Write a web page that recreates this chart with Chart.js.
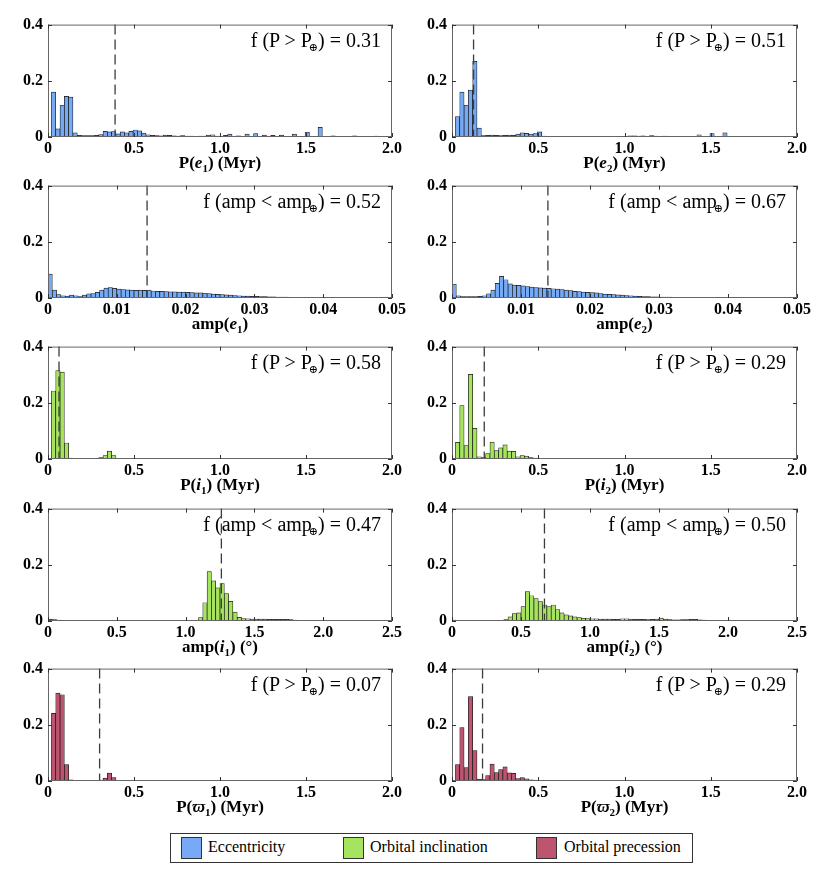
<!DOCTYPE html>
<html>
<head>
<meta charset="utf-8">
<script src="https://cdn.jsdelivr.net/npm/chart.js@4.4.1/dist/chart.umd.min.js"></script>
<style>
    body {
        margin: 0;
        width: 830px;
        height: 869px;
        position: relative;
        overflow: hidden;
        background: #fff;
        font-family: "Liberation Serif", "Times New Roman", serif;
        color: #000;
    }
    canvas { position: absolute; }
    .note {
        position: absolute;
        font-size: 20px;
        line-height: 20px;
        white-space: nowrap;
    }
    .note sub {
        font-family: "DejaVu Serif", serif;
        font-size: 11px;
        vertical-align: -4px;
        margin-left: -3px;
        line-height: 0;
    }
    .xlab {
        position: absolute;
        font-weight: bold;
        font-size: 17px;
        white-space: nowrap;
        transform: translate(-50%, -50%);
    }
    .xlab sub { font-size: 11px; line-height: 0; }
    .legend {
        position: absolute;
        left: 170px;
        top: 833px;
        width: 521px;
        height: 28px;
        border: 1px solid #333;
    }
    .legend .sw {
        position: absolute;
        top: 3px;
        width: 19px;
        height: 20px;
        border: 1px solid #333;
    }
    .legend .tx {
        position: absolute;
        top: 4px;
        font-size: 16px;
        line-height: 18px;
        white-space: nowrap;
    }
</style>
</head>
<body>

<div class="legend">
    <div class="sw" style="left:10px;background:#76aaf5"></div>
    <div class="tx" style="left:37px">Eccentricity</div>
    <div class="sw" style="left:172px;background:#a6e35e"></div>
    <div class="tx" style="left:199px">Orbital inclination</div>
    <div class="sw" style="left:365px;background:#be5570"></div>
    <div class="tx" style="left:393px">Orbital precession</div>
</div>

<script>

// TICKS
const periodTicks = [0, 0.5, 1, 1.5, 2];
const periodTickLabels = ['0', '0.5', '1.0', '1.5', '2.0'];

const ampETicks = [0, 0.01, 0.02, 0.03, 0.04, 0.05];
const ampETickLabels = ['0', '0.01', '0.02', '0.03', '0.04', '0.05'];

const ampITicks = [0, 0.5, 1, 1.5, 2, 2.5];
const ampITickLabels = ['0', '0.5', '1.0', '1.5', '2.0', '2.5'];

const yTicks = [0, 0.2, 0.4];
const yTickLabels = ['0', '0.2', '0.4'];

// BINS
const periodBinStart = 0.02;
const periodBinWidth = 0.025;
const ampEBinStart = 0;
const ampEBinWidth = 0.000625;
const ampIBinStart = 0;
const ampIBinWidth = 0.03125;

// FRACCION (alturas de cada bin)
const periodE1 = [
    0.160, 0.029, 0.113, 0.145, 0.142, 0.015, 0.006, 0.005, 0.005, 0.005,
    0.006, 0.009, 0.020, 0.018, 0.019, 0.011, 0.018, 0.015, 0.020, 0.025,
    0.022, 0.014, 0.008, 0.006, 0.005, 0.004, 0.007, 0.006, 0.004, 0.003,
    0.005, 0.003, 0.003, 0.002, 0.003, 0.003, 0.007, 0.008, 0.003, 0.002,
    0.006, 0.010, 0.002, 0.004, 0.002, 0.010, 0.002, 0.012, 0.002, 0.007,
    0.002, 0.006, 0.001, 0.007, 0.001, 0.001, 0.010, 0.001, 0.001, 0.017,
    0.001, 0.001, 0.034, 0.000, 0.001, 0.004, 0.000, 0.000, 0.001, 0.000,
    0.004, 0.000, 0.000, 0.000, 0.000, 0.003, 0.000, 0.000, 0.000, 0.000
];

const periodE2 = [
    0.073, 0.160, 0.113, 0.167, 0.269, 0.032, 0.005, 0.006, 0.007, 0.006,
    0.005, 0.006, 0.007, 0.006, 0.010, 0.015, 0.013, 0.010, 0.012, 0.018,
    0.003, 0.002, 0.002, 0.002, 0.002, 0.002, 0.002, 0.002, 0.002, 0.001,
    0.001, 0.001, 0.001, 0.001, 0.001, 0.001, 0.001, 0.001, 0.001, 0.001,
    0.004, 0.004, 0.003, 0.004, 0.002, 0.005, 0.003, 0.002, 0.003, 0.002,
    0.002, 0.002, 0.002, 0.002, 0.002, 0.001, 0.008, 0.001, 0.001, 0.012,
    0.001, 0.001, 0.015, 0.001, 0.001, 0.001, 0.000, 0.000, 0.000, 0.000
];

const ampE1 = [
    0.085, 0.028, 0.012, 0.008, 0.007, 0.010, 0.008, 0.005, 0.010, 0.015,
    0.016, 0.020, 0.028, 0.035, 0.037, 0.034, 0.032, 0.030, 0.029, 0.028,
    0.027, 0.028, 0.027, 0.028, 0.025, 0.024, 0.024, 0.023, 0.022, 0.022,
    0.021, 0.021, 0.020, 0.019, 0.018, 0.018, 0.017, 0.016, 0.014, 0.013,
    0.012, 0.011, 0.010, 0.009, 0.008, 0.007, 0.007, 0.006, 0.006, 0.005,
    0.005, 0.004, 0.004, 0.003, 0.003, 0.003, 0.002, 0.002, 0.002, 0.002,
    0.001, 0.001, 0.001, 0.001, 0.001, 0.001, 0.001, 0.001, 0.001, 0.001,
    0.001, 0.001, 0.000, 0.000, 0.000, 0.000, 0.000, 0.000, 0.000, 0.000
];

const ampE2 = [
    0.049, 0.008, 0.005, 0.005, 0.005, 0.005, 0.006, 0.008, 0.015, 0.028,
    0.052, 0.077, 0.065, 0.050, 0.046, 0.045, 0.043, 0.041, 0.039, 0.037,
    0.036, 0.035, 0.034, 0.033, 0.032, 0.030, 0.028, 0.026, 0.024, 0.023,
    0.021, 0.020, 0.019, 0.018, 0.016, 0.014, 0.013, 0.012, 0.011, 0.010,
    0.009, 0.008, 0.007, 0.006, 0.005, 0.005, 0.004, 0.004, 0.003, 0.003,
    0.003, 0.002, 0.002, 0.002, 0.002, 0.001, 0.001, 0.001, 0.001, 0.001,
    0.001, 0.001, 0.001, 0.000, 0.000, 0.000, 0.000, 0.000, 0.000, 0.000
];

const periodI1 = [
    0.242, 0.315, 0.309, 0.057, 0.003, 0.002, 0.001, 0.001, 0.002, 0.002,
    0.002, 0.005, 0.012, 0.028, 0.012, 0.002, 0.001, 0.001, 0.001, 0.001,
    0.001, 0.001, 0.000, 0.000, 0.000, 0.000, 0.000, 0.000, 0.000, 0.001,
    0.001, 0.000, 0.000, 0.000, 0.000, 0.000, 0.000, 0.001, 0.001, 0.001,
    0.001, 0.000, 0.000, 0.000, 0.000, 0.000, 0.000, 0.000, 0.000, 0.001,
    0.001, 0.000, 0.000, 0.000, 0.000, 0.000, 0.000, 0.000, 0.000, 0.001
];

const periodI2 = [
    0.059, 0.190, 0.048, 0.301, 0.109, 0.008, 0.005, 0.019, 0.060, 0.030,
    0.040, 0.050, 0.028, 0.027, 0.008, 0.012, 0.010, 0.005, 0.003, 0.002,
    0.001, 0.001, 0.001, 0.001, 0.000, 0.000, 0.000, 0.000, 0.000, 0.000
];

const ampI1 = [
    0.006, 0.005, 0.003, 0.002, 0.001, 0.001, 0.001, 0.001, 0.001, 0.001,
    0.001, 0.001, 0.001, 0.001, 0.001, 0.001, 0.001, 0.001, 0.001, 0.001,
    0.001, 0.001, 0.001, 0.001, 0.001, 0.001, 0.001, 0.001, 0.001, 0.001,
    0.001, 0.001, 0.001, 0.001, 0.002, 0.012, 0.065, 0.176, 0.143, 0.118,
    0.133, 0.098, 0.070, 0.032, 0.013, 0.009, 0.008, 0.007, 0.007, 0.007,
    0.007, 0.006, 0.006, 0.006, 0.006, 0.006, 0.005, 0.003, 0.002, 0.001,
    0.001, 0.000, 0.000, 0.000, 0.000, 0.000, 0.000, 0.000, 0.000, 0.000
];

const ampI2 = [
    0.003, 0.002, 0.001, 0.000, 0.000, 0.000, 0.000, 0.000, 0.000, 0.000,
    0.000, 0.000, 0.005, 0.015, 0.026, 0.029, 0.051, 0.105, 0.090, 0.080,
    0.069, 0.057, 0.051, 0.057, 0.041, 0.029, 0.022, 0.018, 0.015, 0.012,
    0.010, 0.009, 0.008, 0.008, 0.007, 0.007, 0.007, 0.006, 0.006, 0.008,
    0.008, 0.007, 0.006, 0.006, 0.006, 0.005, 0.006, 0.007, 0.010, 0.007,
    0.005, 0.004, 0.004, 0.005, 0.005, 0.006, 0.006, 0.004, 0.003, 0.002,
    0.002, 0.002, 0.001, 0.001, 0.001, 0.000, 0.000, 0.000, 0.000, 0.000
];

const periodW1 = [
    0.241, 0.313, 0.307, 0.058, 0.004, 0.002, 0.001, 0.001, 0.002, 0.002,
    0.002, 0.003, 0.010, 0.028, 0.012, 0.001, 0.001, 0.001, 0.000, 0.000,
    0.000, 0.000, 0.000, 0.000, 0.000, 0.000, 0.000, 0.000, 0.000, 0.000,
    0.001, 0.001, 0.001, 0.001, 0.001, 0.001, 0.001, 0.001, 0.001, 0.001,
    0.001, 0.000, 0.000, 0.000, 0.000, 0.000, 0.000, 0.000, 0.000, 0.001,
    0.001, 0.000, 0.000, 0.000, 0.000, 0.000, 0.000, 0.000, 0.000, 0.001
];

const periodW2 = [
    0.058, 0.190, 0.048, 0.300, 0.108, 0.007, 0.005, 0.019, 0.060, 0.030,
    0.041, 0.050, 0.029, 0.027, 0.009, 0.012, 0.008, 0.004, 0.003, 0.002,
    0.001, 0.001, 0.000, 0.000, 0.000, 0.000, 0.000, 0.000, 0.000, 0.000,
    0.001, 0.001, 0.001, 0.000, 0.000, 0.000, 0.000, 0.000, 0.000, 0.000,
    0.001, 0.001, 0.001, 0.000, 0.000, 0.000, 0.000, 0.000, 0.000, 0.000,
    0.001, 0.001, 0.001, 0.000, 0.000, 0.000, 0.000, 0.000, 0.000, 0.000,
    0.001, 0.001, 0.001
];

// VALORES DE LA TIERRA (linea discontinua)
const earthRefs = [0.39, 0.125, 0.0144, 0.0139, 0.064, 0.187, 1.26, 0.67, 0.30, 0.177];
const fractions = ['0.31', '0.51', '0.52', '0.67', '0.58', '0.29', '0.47', '0.50', '0.07', '0.29'];

const colors = {
    ecc: '#76aaf5',
    inc: '#a6e35e',
    prec: '#be5570'
};

// GEOMETRIA
const plotLeft = [48, 452];
const plotRight = [392, 797];
const plotTop = [22, 183, 344, 506, 666];
const plotHeight = 115;

const pNote = 'f (P &gt; P<sub>⊕</sub>) = ';
const aNote = 'f (amp &lt; amp<sub>⊕</sub>) = ';

const panels = [
    { row: 0, col: 0, values: periodE1, start: periodBinStart, width: periodBinWidth, ticks: periodTicks, labels: periodTickLabels, max: 2, color: colors.ecc, note: pNote, title: 'P(<i>e</i><sub>1</sub>) (Myr)' },
    { row: 0, col: 1, values: periodE2, start: periodBinStart, width: periodBinWidth, ticks: periodTicks, labels: periodTickLabels, max: 2, color: colors.ecc, note: pNote, title: 'P(<i>e</i><sub>2</sub>) (Myr)' },
    { row: 1, col: 0, values: ampE1, start: ampEBinStart, width: ampEBinWidth, ticks: ampETicks, labels: ampETickLabels, max: 0.05, color: colors.ecc, note: aNote, title: 'amp(<i>e</i><sub>1</sub>)' },
    { row: 1, col: 1, values: ampE2, start: ampEBinStart, width: ampEBinWidth, ticks: ampETicks, labels: ampETickLabels, max: 0.05, color: colors.ecc, note: aNote, title: 'amp(<i>e</i><sub>2</sub>)' },
    { row: 2, col: 0, values: periodI1, start: periodBinStart, width: periodBinWidth, ticks: periodTicks, labels: periodTickLabels, max: 2, color: colors.inc, note: pNote, title: 'P(<i>i</i><sub>1</sub>) (Myr)' },
    { row: 2, col: 1, values: periodI2, start: periodBinStart, width: periodBinWidth, ticks: periodTicks, labels: periodTickLabels, max: 2, color: colors.inc, note: pNote, title: 'P(<i>i</i><sub>2</sub>) (Myr)' },
    { row: 3, col: 0, values: ampI1, start: ampIBinStart, width: ampIBinWidth, ticks: ampITicks, labels: ampITickLabels, max: 2.5, color: colors.inc, note: aNote, title: 'amp(<i>i</i><sub>1</sub>) (°)' },
    { row: 3, col: 1, values: ampI2, start: ampIBinStart, width: ampIBinWidth, ticks: ampITicks, labels: ampITickLabels, max: 2.5, color: colors.inc, note: aNote, title: 'amp(<i>i</i><sub>2</sub>) (°)' },
    { row: 4, col: 0, values: periodW1, start: periodBinStart, width: periodBinWidth, ticks: periodTicks, labels: periodTickLabels, max: 2, color: colors.prec, note: pNote, title: 'P(<i>ϖ</i><sub>1</sub>) (Myr)' },
    { row: 4, col: 1, values: periodW2, start: periodBinStart, width: periodBinWidth, ticks: periodTicks, labels: periodTickLabels, max: 2, color: colors.prec, note: pNote, title: 'P(<i>ϖ</i><sub>2</sub>) (Myr)' }
];

Chart.defaults.font.family = 'Liberation Serif';
Chart.defaults.font.size = 16;
Chart.defaults.color = '#000';

// MARCO, TICKS INTERIORES Y LINEA DISCONTINUA
const marco = {
    id: 'marco',
    afterDatasetsDraw(chart, args, opts) {
        const ctx = chart.ctx;
        const a = chart.chartArea;
        const x = chart.scales.x;
        const y = chart.scales.y;

        ctx.save();

        const px = x.getPixelForValue(opts.ref);
        ctx.strokeStyle = '#3c3c3c';
        ctx.lineWidth = 1.3;
        ctx.setLineDash([10, 5]);
        ctx.beginPath();
        ctx.moveTo(px, a.top);
        ctx.lineTo(px, a.bottom);
        ctx.stroke();
        ctx.setLineDash([]);

        ctx.strokeStyle = '#666';
        ctx.lineWidth = 1;
        ctx.strokeRect(a.left + 0.5, a.top + 0.5, a.right - a.left - 1, a.bottom - a.top - 1);

        ctx.strokeStyle = '#333';
        ctx.beginPath();
        x.ticks.forEach(t => {
            const p = Math.round(x.getPixelForValue(t.value)) + 0.5;
            ctx.moveTo(p, a.top);
            ctx.lineTo(p, a.top + 4);
            ctx.moveTo(p, a.bottom);
            ctx.lineTo(p, a.bottom - 4);
        });
        y.ticks.forEach(t => {
            const p = Math.round(y.getPixelForValue(t.value)) + 0.5;
            ctx.moveTo(a.left, p);
            ctx.lineTo(a.left + 4, p);
            ctx.moveTo(a.right, p);
            ctx.lineTo(a.right - 4, p);
        });
        ctx.stroke();

        ctx.restore();
    }
};

panels.forEach((p, k) => {

    const canvasLeft = p.col ? 410 : 0;
    const canvasWidth = p.col ? 420 : 410;
    const top = plotTop[p.row];
    const canvasTop = top - 12;
    const canvasHeight = 12 + plotHeight + 26;

    const canvas = document.createElement('canvas');
    canvas.width = canvasWidth;
    canvas.height = canvasHeight;
    canvas.style.left = canvasLeft + 'px';
    canvas.style.top = canvasTop + 'px';
    document.body.appendChild(canvas);

    const data = p.values.map((v, i) => ({
        x: p.start + (i + 0.5) * p.width,
        y: v
    }));

    new Chart(canvas, {
        type: 'bar',
        data: {
            datasets: [{
                data: data,
                backgroundColor: p.color,
                borderColor: '#151515',
                borderWidth: 0.7,
                barPercentage: 1,
                categoryPercentage: 1
            }]
        },
        options: {
            responsive: false,
            animation: false,
            layout: {
                padding: {
                    top: 12,
                    left: 0,
                    bottom: 0,
                    right: canvasWidth - (plotRight[p.col] - canvasLeft)
                }
            },
            plugins: {
                legend: { display: false },
                tooltip: { enabled: false },
                marco: { ref: earthRefs[k] }
            },
            scales: {
                x: {
                    type: 'linear',
                    min: 0,
                    max: p.max,
                    offset: false,
                    grid: { display: false, drawTicks: false },
                    border: { display: false },
                    afterBuildTicks: s => { s.ticks = p.ticks.map(v => ({ value: v })); },
                    afterFit: s => { s.height = 26; },
                    ticks: {
                        autoSkip: false,
                        maxRotation: 0,
                        padding: 2,
                        color: '#000',
                        font: { size: 16, weight: 'bold' },
                        callback: (v, i) => p.labels[i]
                    }
                },
                y: {
                    min: 0,
                    max: 0.4,
                    grid: { display: false, drawTicks: false },
                    border: { display: false },
                    afterBuildTicks: s => { s.ticks = yTicks.map(v => ({ value: v })); },
                    afterFit: s => { s.width = plotLeft[p.col] - canvasLeft; },
                    ticks: {
                        padding: 5,
                        color: '#000',
                        font: { size: 16, weight: 'bold' },
                        callback: (v, i) => yTickLabels[i]
                    }
                }
            }
        },
        plugins: [marco]
    });

    // TEXTO
    const note = document.createElement('div');
    note.className = 'note';
    note.innerHTML = p.note + fractions[k];
    note.style.right = (830 - (plotRight[p.col] - 11)) + 'px';
    note.style.top = (top + 8) + 'px';
    document.body.appendChild(note);

    const lab = document.createElement('div');
    lab.className = 'xlab';
    lab.innerHTML = p.title;
    lab.style.left = ((plotLeft[p.col] + plotRight[p.col]) / 2) + 'px';
    lab.style.top = (top + plotHeight + 26) + 'px';
    document.body.appendChild(lab);
});

</script>
</body>
</html>
